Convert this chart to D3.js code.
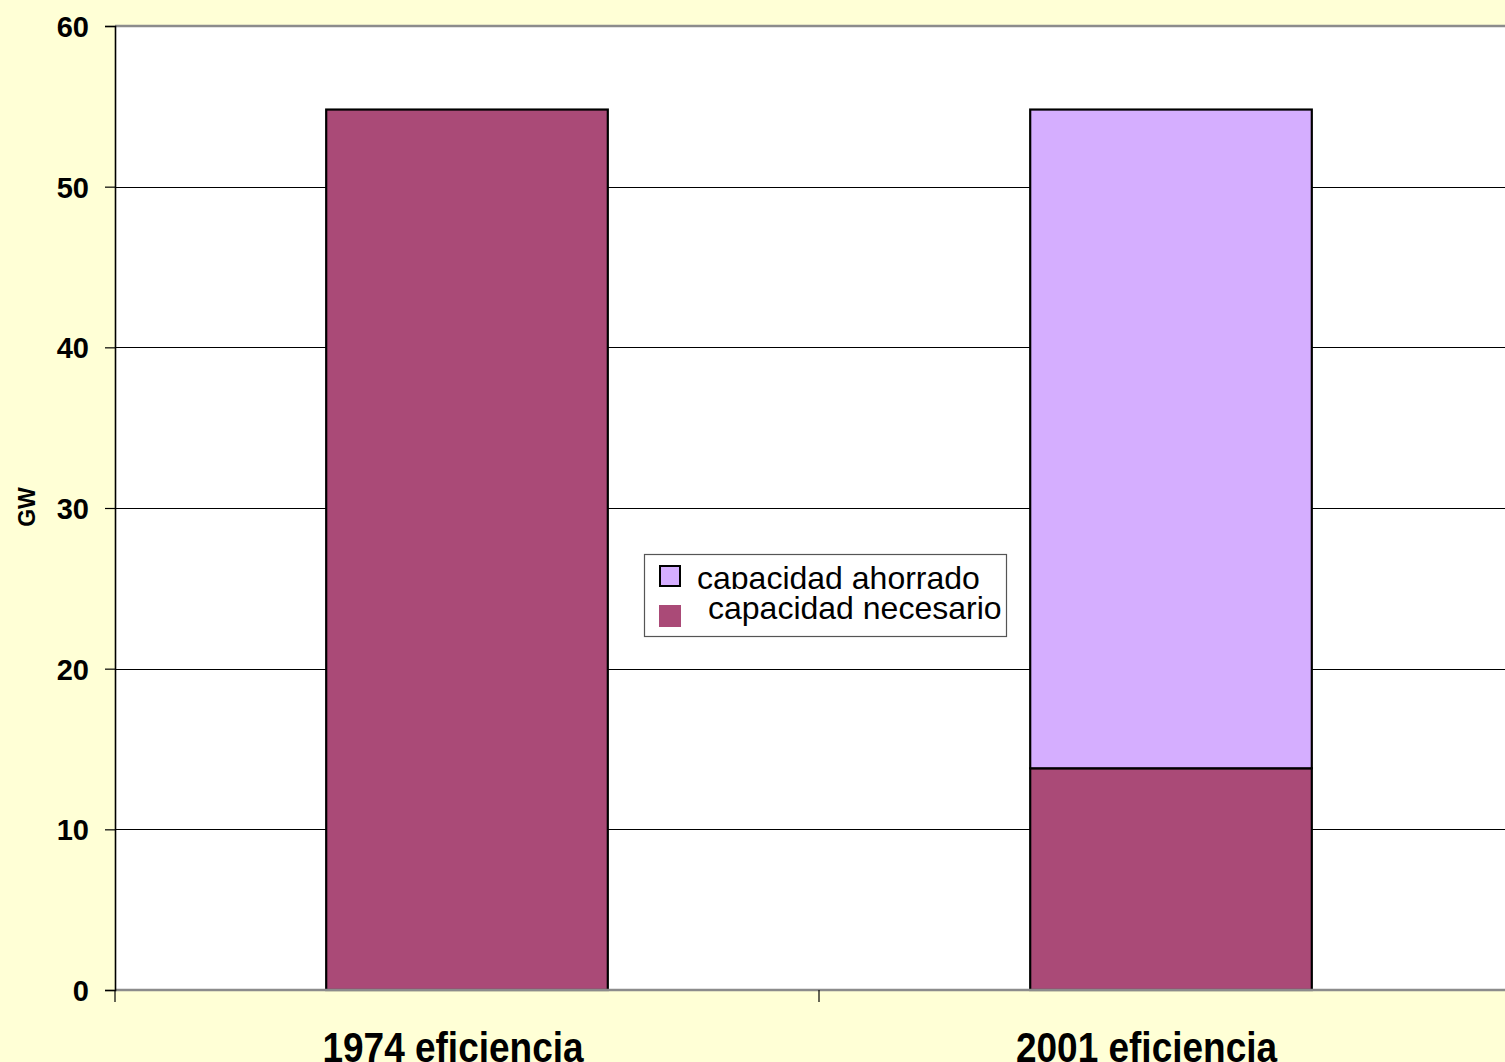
<!DOCTYPE html>
<html>
<head>
<meta charset="utf-8">
<script src="https://cdn.jsdelivr.net/npm/d3@7"></script>
<style>
  html, body { margin: 0; padding: 0; background: #FFFFD6; }
  svg { display: block; font-family: "Liberation Sans", Arial, sans-serif; }
</style>
</head>
<body>
<svg id="chart" width="1505" height="1062"></svg>
<script>
// Capacity (GW) needed under 1974 vs 2001 efficiency levels
const categories = ["1974 eficiencia", "2001 eficiencia"];
const necesario = [54.8, 13.8];   // capacidad necesario
const ahorrado = [0, 41.0];       // capacidad ahorrado
const seriesNames = ["capacidad necesario", "capacidad ahorrado"];
const yTicks = [0, 10, 20, 30, 40, 50, 60];

const colors = { "capacidad necesario": "#AA4A77", "capacidad ahorrado": "#D5AEFF" };

const svg = d3.select("#chart");
const W = 1505, H = 1062;
const plot = { left: 115, right: 1523, top: 26, bottom: 990 };

svg.append("rect").attr("width", W).attr("height", H).attr("fill", "#FFFFD6");

const x = d3.scaleBand().domain(categories).range([plot.left, plot.right]).padding(0);
const y = d3.scaleLinear().domain([0, 60]).range([plot.bottom, plot.top]);

// plot area
svg.append("rect")
  .attr("x", plot.left).attr("y", plot.top)
  .attr("width", plot.right - plot.left).attr("height", plot.bottom - plot.top)
  .attr("fill", "#FFFFFF");

// gridlines
svg.append("g")
  .selectAll("line")
  .data(yTicks.filter(t => t > 0 && t < 60))
  .join("line")
  .attr("x1", plot.left).attr("x2", plot.right)
  .attr("y1", d => Math.round(y(d)) + 0.5).attr("y2", d => Math.round(y(d)) + 0.5)
  .attr("stroke", "#000").attr("stroke-width", 1);

// top border of plot
svg.append("line")
  .attr("x1", plot.left).attr("x2", plot.right)
  .attr("y1", plot.top).attr("y2", plot.top)
  .attr("stroke", "#8C8C8C").attr("stroke-width", 2.5);

// stacked bars
const table = categories.map((c, i) => ({
  cat: c,
  "capacidad necesario": necesario[i],
  "capacidad ahorrado": ahorrado[i]
}));
const stacked = d3.stack().keys(seriesNames)(table);
const barFrac = 0.4;
const bw = x.bandwidth() * barFrac;

svg.append("g")
  .selectAll("g")
  .data(stacked)
  .join("g")
  .attr("fill", s => colors[s.key])
  .selectAll("rect")
  .data(s => s.filter(d => d[1] - d[0] > 0))
  .join("rect")
  .attr("x", d => x(d.data.cat) + (x.bandwidth() - bw) / 2)
  .attr("y", d => y(d[1]))
  .attr("width", bw)
  .attr("height", d => y(d[0]) - y(d[1]))
  .attr("stroke", "#000")
  .attr("stroke-width", 2.2);

// x axis (bottom)
svg.append("line")
  .attr("x1", plot.left).attr("x2", plot.right)
  .attr("y1", plot.bottom).attr("y2", plot.bottom)
  .attr("stroke", "#8C8C8C").attr("stroke-width", 2.5);

const xTickPos = categories.map(c => x(c)).concat([x(categories[categories.length - 1]) + x.bandwidth()]);
svg.append("g")
  .selectAll("line")
  .data(xTickPos)
  .join("line")
  .attr("x1", d => d).attr("x2", d => d)
  .attr("y1", plot.bottom).attr("y2", plot.bottom + 12)
  .attr("stroke", "#000").attr("stroke-width", 1.2);

// category labels, slightly tall, sitting at the bottom edge
const labelBase = 1062;
svg.append("g")
  .selectAll("text")
  .data(categories)
  .join("text")
  .attr("transform", (d, i) =>
    `translate(${x(d) + x.bandwidth() / 2 - 14 - i * 10.5},${labelBase}) scale(1,1.15)`)
  .attr("text-anchor", "middle")
  .attr("font-weight", "bold")
  .attr("font-size", 37)
  .attr("fill", "#000")
  .text(d => d);

// y axis
const yAxis = d3.axisLeft(y).tickValues(yTicks).tickSize(10).tickPadding(16).tickFormat(d3.format("d"));
const ya = svg.append("g")
  .attr("transform", `translate(${plot.left},0)`)
  .call(yAxis);
ya.select(".domain").attr("stroke", "#000").attr("stroke-width", 1.6);
ya.selectAll(".tick line").attr("stroke", "#000").attr("stroke-width", 1.2);
ya.selectAll(".tick text")
  .attr("font-family", "Liberation Sans, Arial, sans-serif")
  .attr("font-size", 29)
  .attr("font-weight", "bold")
  .attr("fill", "#000")
  .attr("dy", "0.36em");

svg.append("text")
  .attr("transform", "translate(35,507) rotate(-90)")
  .attr("text-anchor", "middle")
  .attr("font-weight", "bold")
  .attr("font-size", 23)
  .attr("fill", "#000")
  .text("GW");

// legend
const lg = svg.append("g");
lg.append("rect")
  .attr("x", 644.5).attr("y", 554.5).attr("width", 362).attr("height", 82)
  .attr("fill", "#FFFFFF").attr("stroke", "#555").attr("stroke-width", 1.2);

const defs = svg.append("defs");
defs.append("clipPath").attr("id", "legendLine1")
  .append("rect").attr("x", 690).attr("y", 556).attr("width", 310).attr("height", 33);

lg.append("rect")
  .attr("x", 660).attr("y", 566).attr("width", 20).attr("height", 20)
  .attr("fill", colors["capacidad ahorrado"]).attr("stroke", "#000").attr("stroke-width", 2);
lg.append("text")
  .attr("x", 697).attr("y", 589)
  .attr("font-size", 32).attr("fill", "#000")
  .attr("clip-path", "url(#legendLine1)")
  .text(seriesNames[1]);

lg.append("rect")
  .attr("x", 659).attr("y", 605).attr("width", 22).attr("height", 22)
  .attr("fill", colors["capacidad necesario"]);
lg.append("text")
  .attr("x", 708).attr("y", 619)
  .attr("font-size", 32).attr("fill", "#000")
  .text(seriesNames[0]);
</script>
</body>
</html>
